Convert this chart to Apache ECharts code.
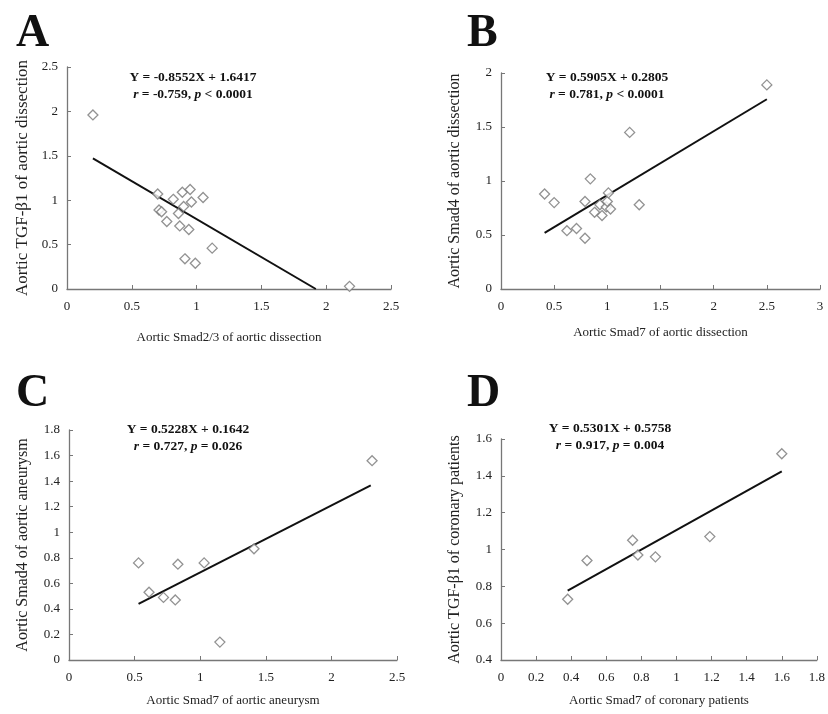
<!DOCTYPE html>
<html>
<head>
<meta charset="utf-8">
<script src="https://cdn.jsdelivr.net/npm/echarts@6/dist/echarts.min.js"></script>
<style>
  html, body { margin: 0; padding: 0; background: #fff; }
  #chart { width: 828px; height: 714px; }
</style>
</head>
<body>
<div id="chart"></div>
<script>
// A: Smad2/3 vs TGF-b1, aortic dissection
const pointsA = [
  [0.20, 1.96], [0.70, 1.07], [0.71, 0.89], [0.73, 0.87], [0.77, 0.76],
  [0.82, 1.01], [0.86, 0.85], [0.87, 0.71], [0.89, 1.09], [0.90, 0.93],
  [0.91, 0.34], [0.94, 0.67], [0.95, 1.12], [0.96, 0.98], [0.99, 0.29],
  [1.05, 1.03], [1.12, 0.46], [2.18, 0.03]
]
const fitA = [[0.20, 1.47], [1.92, 0]]
// B: Smad7 vs Smad4, aortic dissection
const pointsB = [
  [0.41, 0.88], [0.50, 0.80], [0.62, 0.54], [0.71, 0.56], [0.79, 0.47],
  [0.79, 0.81], [0.84, 1.02], [0.88, 0.71], [0.93, 0.78], [0.95, 0.68],
  [0.99, 0.76], [1.00, 0.81], [1.01, 0.89], [1.03, 0.74], [1.21, 1.45],
  [1.30, 0.78], [2.50, 1.89]
]
const fitB = [[0.41, 0.52], [2.50, 1.757]]
// C: Smad7 vs Smad4, aortic aneurysm
const pointsC = [
  [0.53, 0.76], [0.61, 0.53], [0.72, 0.49], [0.81, 0.47], [0.83, 0.75],
  [1.03, 0.76], [1.15, 0.14], [1.41, 0.87], [2.31, 1.56]
]
const fitC = [[0.53, 0.44], [2.30, 1.367]]
// D: Smad7 vs TGF-b1, coronary patients
const pointsD = [
  [0.38, 0.73], [0.49, 0.94], [0.75, 1.05], [0.78, 0.97], [0.88, 0.96],
  [1.19, 1.07], [1.60, 1.52]
]
const fitD = [[0.38, 0.777], [1.60, 1.424]]

const xTitles = [
  'Aortic Smad2/3 of aortic dissection',
  'Aortic Smad7 of aortic dissection',
  'Aortic Smad7 of aortic aneurysm',
  'Aortic Smad7 of coronary patients'
]
const yTitles = [
  'Aortic TGF-β1 of aortic dissection',
  'Aortic Smad4 of aortic dissection',
  'Aortic Smad4 of aortic aneurysm',
  'Aortic TGF-β1 of coronary patients'
]
const xRanges = [[0, 2.5, 0.5], [0, 3, 0.5], [0, 2.5, 0.5], [0, 1.8, 0.2]]
const yRanges = [[0, 2.5, 0.5], [0, 2, 0.5], [0, 1.8, 0.2], [0.4, 1.6, 0.2]]
const eqLines = [
  ['Y = -0.8552X + 1.6417', 'r', ' = -0.759, ', 'p', ' < 0.0001'],
  ['Y = 0.5905X + 0.2805', 'r', ' = 0.781, ', 'p', ' < 0.0001'],
  ['Y = 0.5228X + 0.1642', 'r', ' = 0.727, ', 'p', ' = 0.026'],
  ['Y = 0.5301X + 0.5758', 'r', ' = 0.917, ', 'p', ' = 0.004']
]
const panelLetters = ['A', 'B', 'C', 'D']

const chart = echarts.init(document.getElementById('chart'))
const serif = 'Liberation Serif, Times New Roman, serif'

const grids = [
  {left: 67, top: 67, width: 324, height: 222},
  {left: 501, top: 73, width: 319, height: 216},
  {left: 69, top: 430, width: 328, height: 230},
  {left: 501, top: 439, width: 316, height: 221}
]
const letterPos = [[16, 11], [467, 11], [16, 371], [467, 371]]
const eqPos = [[193, 69], [607, 69], [188, 421], [610, 420]]
const xNameGap = [42, 37, 34, 34]
const yNameGap = [36, 38, 38, 38]
const yNameSize = [17, 16, 16, 16]

const axisCommon = {
  axisLine: {lineStyle: {color: '#777', width: 1.3}},
  axisTick: {inside: true, length: 4, lineStyle: {color: '#777'}},
  splitLine: {show: false},
  axisLabel: {color: '#222', fontFamily: serif, fontSize: 13},
  nameLocation: 'middle'
}

const xAxes = xRanges.map((r, i) => Object.assign({}, axisCommon, {
  type: 'value', gridIndex: i, min: r[0], max: r[1], interval: r[2],
  name: xTitles[i], nameGap: xNameGap[i],
  nameTextStyle: {color: '#222', fontFamily: serif, fontSize: 13},
  axisLabel: Object.assign({}, axisCommon.axisLabel, {margin: 11})
}))
const yAxes = yRanges.map((r, i) => Object.assign({}, axisCommon, {
  type: 'value', gridIndex: i, min: r[0], max: r[1], interval: r[2],
  name: yTitles[i], nameGap: yNameGap[i],
  nameTextStyle: {color: '#222', fontFamily: serif, fontSize: yNameSize[i]},
  axisLabel: Object.assign({}, axisCommon.axisLabel, {margin: 9})
}))

const allPoints = [pointsA, pointsB, pointsC, pointsD]
const allFits = [fitA, fitB, fitC, fitD]
const series = []
allPoints.forEach((pts, i) => {
  series.push({
    type: 'line', xAxisIndex: i, yAxisIndex: i, data: allFits[i],
    showSymbol: false, symbol: 'none', lineStyle: {color: '#111', width: 2},
    z: 2, silent: true
  })
  series.push({
    type: 'scatter', xAxisIndex: i, yAxisIndex: i, data: pts,
    symbol: 'diamond', symbolSize: 10,
    itemStyle: {color: '#fff', borderColor: '#777', borderWidth: 1.3},
    z: 3
  })
})

const graphic = []
panelLetters.forEach((l, i) => {
  graphic.push({
    type: 'text', left: letterPos[i][0], top: letterPos[i][1],
    style: {text: l, font: 'bold 46px ' + serif, fill: '#111'}
  })
  const e = eqLines[i]
  graphic.push({
    type: 'text', x: eqPos[i][0], y: eqPos[i][1],
    style: {
      text: e[0] + '\n{i|' + e[1] + '}' + e[2] + '{i|' + e[3] + '}' + e[4],
      font: 'bold 13.5px ' + serif, fill: '#111', align: 'center',
      lineHeight: 17,
      rich: {i: {fontStyle: 'italic', fontWeight: 'bold', fontSize: 13.5, fontFamily: serif}}
    }
  })
})

chart.setOption({
  backgroundColor: '#fff',
  animation: false,
  grid: grids,
  xAxis: xAxes,
  yAxis: yAxes,
  series: series,
  graphic: graphic
})
</script>
</body>
</html>
